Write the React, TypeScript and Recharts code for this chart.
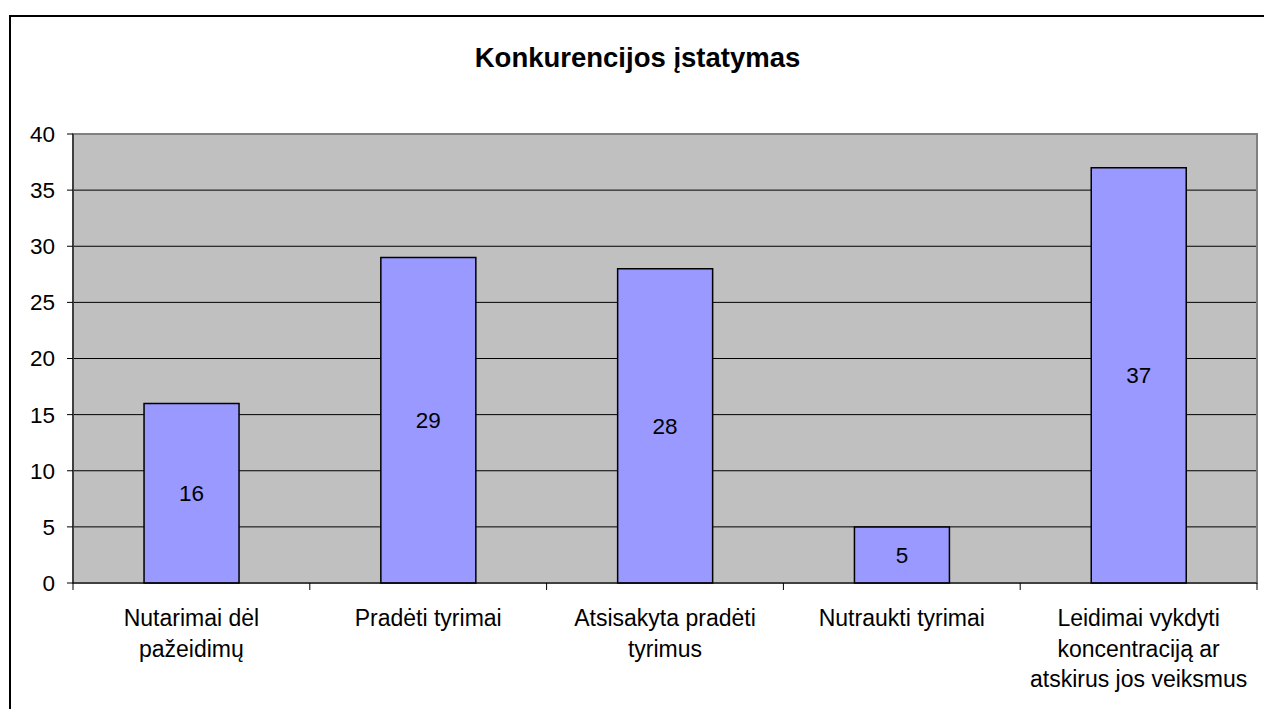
import React from 'react';
import { BarChart, Bar, XAxis, YAxis, CartesianGrid, LabelList, ReferenceArea } from 'recharts';

const title = 'Konkurencijos įstatymas';
const categories = [
  'Nutarimai dėl\npažeidimų',
  'Pradėti tyrimai',
  'Atsisakyta pradėti\ntyrimus',
  'Nutraukti tyrimai',
  'Leidimai vykdyti\nkoncentraciją ar\natskirus jos veiksmus',
];
const values = [16, 29, 28, 5, 37];
const yTicks = [0, 5, 10, 15, 20, 25, 30, 35, 40];

const data = categories.map((name, i) => ({ name, value: values[i] }));

const FONT = '"Liberation Sans", Arial, sans-serif';

// category label + tick marks on the band edges
const CategoryTick = (props: any) => {
  const { x, y, payload, index, visibleTicksCount } = props;
  const half = payload && payload.offset ? payload.offset : 118.4;
  const lines = String(payload.value).split('\n');
  const last = index === (visibleTicksCount ?? categories.length) - 1;
  return (
    <g>
      <line x1={x - half} x2={x - half} y1={y} y2={y + 7} stroke="#000" strokeWidth={1} />
      {last && <line x1={x + half} x2={x + half} y1={y} y2={y + 7} stroke="#000" strokeWidth={1} />}
      <text x={x} y={y + 43} textAnchor="middle" fontSize={23} fontFamily={FONT} fill="#000">
        {lines.map((l, i) => (
          <tspan key={i} x={x} dy={i === 0 ? 0 : 30.5}>{l}</tspan>
        ))}
      </text>
    </g>
  );
};

export default function App() {
  return (
    <div style={{ position: 'fixed', left: 0, top: 0, width: 1264, height: 709, overflow: 'hidden', background: '#fff' }}>
      {/* chart frame, runs off the right and bottom edges */}
      <div style={{ position: 'absolute', left: 9, top: 15, width: 1300, height: 800, border: '2px solid #000' }} />
      <svg width={1264} height={100} style={{ position: 'absolute', left: 0, top: 0 }}>
        <text x={637.5} y={67} textAnchor="middle" fontSize={27.5} fontWeight="bold" fontFamily={FONT} fill="#000">
          {title}
        </text>
      </svg>
      <div style={{ position: 'absolute', left: 0, top: 0 }}>
        <BarChart
          width={1264}
          height={709}
          data={data}
          margin={{ top: 134, right: 7, bottom: 0, left: 13 }}
          barCategoryGap="30%"
        >
          <CartesianGrid vertical={false} stroke="#000" fill="#C0C0C0" fillOpacity={1} />
          <ReferenceArea y1={0} y2={40} fill="none" fillOpacity={0} stroke="#808080" strokeWidth={2} />
          <XAxis
            dataKey="name"
            height={126}
            interval={0}
            tickLine={false}
            tickSize={0}
            tickMargin={0}
            axisLine={{ stroke: '#000', strokeWidth: 1 }}
            tick={<CategoryTick />}
          />
          <YAxis
            width={60}
            domain={[0, 40]}
            ticks={yTicks}
            interval={0}
            tickSize={6}
            tickMargin={12}
            axisLine={{ stroke: '#000', strokeWidth: 1 }}
            tickLine={{ stroke: '#000' }}
            tick={{ fontSize: 22.5, fontFamily: FONT, fill: '#000' }}
          />
          <Bar dataKey="value" fill="#9999FF" stroke="#000" strokeWidth={1.5} isAnimationActive={false}>
            <LabelList dataKey="value" position="center" fontSize={22.5} fontFamily={FONT} fill="#000" />
          </Bar>
        </BarChart>
      </div>
    </div>
  );
}
